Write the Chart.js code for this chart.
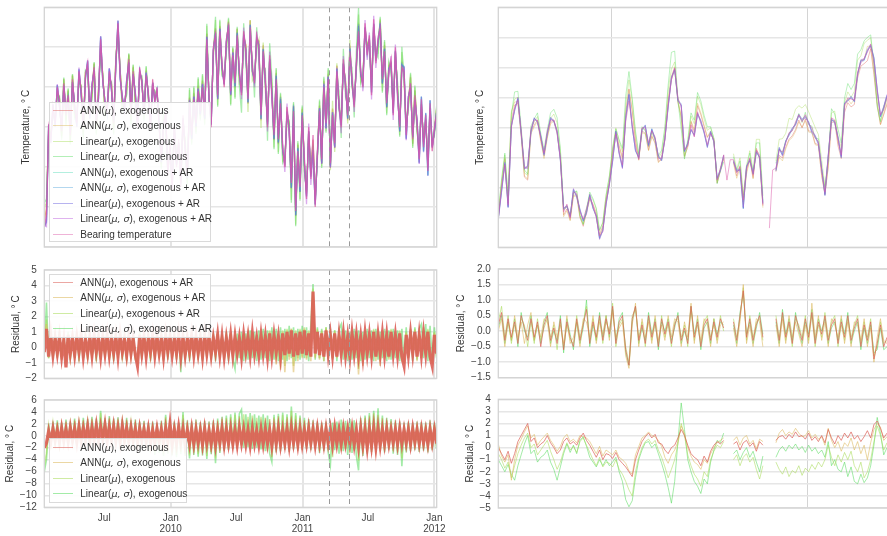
<!DOCTYPE html>
<html>
<head>
<meta charset="utf-8">
<script src="https://cdn.jsdelivr.net/npm/chart.js@4.4.1/dist/chart.umd.min.js"></script>
<style>
  html, body { margin: 0; padding: 0; background: #fff; }
  #page { position: relative; width: 887px; height: 536px; overflow: hidden; }
  #page canvas { position: absolute; left: 0; top: 0; }
  .legend { position: absolute; box-sizing: border-box; background: rgba(255, 255, 255, 0.9); border: 1px solid #dadada; font: 10px "Liberation Sans", Arial, sans-serif; color: #333; z-index: 5; }
  .legend .row { height: 15.5px; display: flex; align-items: center; white-space: nowrap; }
  .legend .swatch { width: 19.4px; height: 1px; margin: 0 7.6px 0 3px; flex: none; }
  .legend i { font-family: "DejaVu Sans", sans-serif; font-size: 9.5px; }
</style>
</head>
<body>
<div id="page"></div>
<script>
// days are counted from 1 Jan 2009
const LEFT_START = 15;
const LEFT_STEP = 6;
const RIGHT_START = 802.7;
const RIGHT_STEP = 0.5;

const exoLabels = ["ANN(μ), exogenous", "ANN(μ, σ), exogenous", "Linear(μ), exogenous", "Linear(μ, σ), exogenous"];
const arLabels = ["ANN(μ), exogenous + AR", "ANN(μ, σ), exogenous + AR", "Linear(μ), exogenous + AR", "Linear(μ, σ), exogenous + AR"];
const bearingLabel = "Bearing temperature";
const palette = ["#db5f57", "#dbb757", "#a7db57", "#57db5f", "#57dbb7", "#57a7db", "#5f57db", "#b757db", "#db57a7"];

const leftTicks = [181, 365, 546, 730, 911, 1095];
const leftTickLabels = ["Jul", ["Jan", "2010"], "Jul", ["Jan", "2011"], "Jul", ["Jan", "2012"]];
const leftGridDays = [365, 730, 1095];
const zoomWindow = [802.4, 859.4];
const rightGridDays = [820, 850];

const tempLeftTicks = [0, 10, 20, 30, 40, 50, 60];
const tempRightTicks = [15, 20, 25, 30, 35, 40, 45, 50, 55];
const arLeftTicks = [-2, -1, 0, 1, 2, 3, 4, 5];
const exoLeftTicks = [-12, -10, -8, -6, -4, -2, 0, 2, 4, 6];
const arRightTicks = [-1.5, -1, -0.5, 0, 0.5, 1, 1.5, 2];
const exoRightTicks = [-5, -4, -3, -2, -1, 0, 1, 2, 3, 4];

// left column: bearing temperature and residuals, one value per 6 days
const leftBearing = [5, 8, 30,
  27, 35, 31, 40, 36, 29, 41, 33, 38, 28, 42, 35, 31, 44, 39, 30, 43, 46, 33, 40,
  45, 31, 38, 52, 42, 36, 34, 44, 40, 31, 46, 56, 43, 37, 35, 41, 47, 33, 44, 38,
  30, 45, 41, 34, 43, 39, 29, 42, 36, 40, 30,
  22, 30, 34, 18, 26, 14, 31, 20, 27, 15, 33, 24, 18, 36, 28, 37,
  31, 39, 34, 40, 33,
  52, 38, 30, 50, 53,
  38, 54, 46, 40, 52, 55, 39, 48, 41, 53, 44, 38, 54, 49, 37, 55, 45, 41, 53, 50,
  33, 49, 42, 30, 48, 38, 28, 42, 27,
  36, 25, 20, 35, 29, 16, 34, 9, 24, 15,
  33, 22, 12, 30, 17, 28, 10, 24, 34,
  22, 40, 31, 42, 21, 33, 26,
  44, 36, 30, 47, 40, 33, 49, 42, 35, 46,
  54, 44, 40, 56, 48, 53, 38, 57, 46, 52, 55,
  42, 49, 36, 44, 47, 33, 50, 38, 30, 45, 44, 28, 37, 41,
  27, 38, 31, 22, 37, 25, 33, 19, 36, 24, 30, 33];

const leftArAnnMu = [-0.3, 1.2, -0.6, 0.8, -0.5, 0.6, -0.4, 0.7, -0.6, 0.5,
  -1.3, 0.8, -0.4, 0.6, -0.5, 0.7, -0.3, 0.8, -0.6, 0.5,
  -0.4, 0.7, -0.5, 0.8, -0.3, 0.6, -0.6, 0.7, -0.4, 0.8,
  -0.5, 0.6, -0.4, 0.7, -0.6, 0.8, -0.3, 0.5, -0.5, 0.7,
  -0.4, 0.6, -0.5, -1.2, 0.8, -0.4, 0.7, -0.6, 0.6, -0.3,
  0.8, -0.5, 0.7, -0.4, 0.6, -0.6, 0.8, -0.3, 0.7, -0.5,
  0.6, -0.4, 0.8, -0.6, 0.7, -0.5, 0.6, -0.3, 0.8, -0.5,
  0.7, -0.4, 0.6, -0.6, 0.8, -0.4, 0.7, -0.5, 0.6, -0.3,
  0.8, -0.5, 0.7, -0.6, 0.6, -0.4, 0.8, -0.5, 0.7, -0.4,
  0.6, -0.6, 0.8, -0.3, 0.7, -0.5, 0.9, -0.4, 0.6, -0.5,
  0.8, -0.4, 0.7, -0.6, 0.9, -0.5, 0.8, -0.3, 0.7, -0.6,
  0.9, -0.5, 1.0, -0.4, 1.1, -0.6, 0.9, -0.5, 1.0, -0.4,
  1.1, -0.5, 0.9, -0.6, 3.6, -0.4, 1.0, -0.5, 0.9, -0.6,
  1.1, -0.4, 0.8, -0.5, 0.9, -0.6, 0.8, -0.4, 0.9, -0.5,
  0.7, -0.6, 0.9, -0.4, 0.8, -0.5, 0.7, -0.6, 0.9, -0.4,
  0.8, -0.5, 1.0, -0.6, 0.8, -0.4, 0.9, -0.5, 0.8, -0.6,
  1.0, -0.4, 0.8, -0.5, 0.9, -0.6, -1.2, 0.8, -0.5, 0.9,
  -0.4, 1.0, -0.6, 0.8, -0.5, 0.9, -0.4, 1.0, -0.6, -1.2,
  0.8, -0.4];
const leftArAnnMuSigma = [0.1, 1.5, -0.7, 0.9, -0.6, 0.8, -0.5, 0.6, -0.8, 0.7,
  -0.9, 0.6, -0.7, 0.8, -0.4, 0.9, -0.6, 0.7, -0.5, 0.8,
  -0.7, 0.6, -0.6, 0.9, -0.5, 0.8, -0.8, 0.6, -0.5, 0.7,
  -0.6, 0.8, -0.5, 0.9, -0.7, 0.6, -0.5, 0.7, -0.8, 0.8,
  -0.6, 0.7, -0.7, -1.0, 0.9, -0.5, 0.8, -0.7, 0.7, -0.6,
  0.9, -0.6, 0.8, -0.5, 0.7, -0.8, 0.9, -0.5, 0.8, -0.7,
  0.7, -0.6, 0.9, -0.8, 0.8, -0.7, 0.7, -0.5, 0.9, -0.6,
  0.8, -0.6, 0.7, -0.8, 0.9, -0.5, 0.8, -0.7, 0.7, -0.5,
  0.9, -0.7, 0.8, -0.8, 0.7, -0.6, 0.9, -0.7, 0.8, -0.5,
  0.7, -0.8, 0.9, -0.5, 0.8, -0.7, 1.0, -0.6, 0.7, -0.8,
  0.9, -0.6, 0.8, -0.9, 1.0, -0.7, 0.9, -1.1, 0.8, -1.45,
  1.0, -1.6, 1.1, -0.8, 1.2, -1.6, 1.0, -0.9, 1.1, -0.7,
  1.2, -0.8, 1.0, -0.9, 3.6, -0.7, 1.1, -0.8, 1.0, -0.9,
  1.2, -0.6, 0.9, -0.8, 1.0, -0.7, 0.9, -0.6, 1.0, -0.8,
  0.8, -0.9, 1.0, -0.7, 0.9, -1.75, 0.8, -1.2, 1.0, -0.7,
  0.9, -0.8, 1.1, -0.9, 0.9, -1.2, 1.0, -0.7, 0.9, -0.8,
  1.1, -0.6, 0.9, -0.8, 1.0, -0.9, -1.0, 0.9, -0.7, 1.0,
  -0.6, 1.1, -0.9, 0.9, -0.7, 1.0, -0.6, 1.1, -0.8, -1.0,
  0.9, -0.6];
const leftArLinMu = [-0.2, 1.8, -0.5, 0.7, -0.7, 0.9, -0.6, 0.8, -0.5, 0.6,
  -1.0, 0.9, -0.6, 0.7, -0.6, 0.8, -0.5, 0.9, -0.7, 0.6,
  -0.5, 0.8, -0.7, 0.7, -0.6, 0.9, -0.5, 0.8, -0.6, 0.9,
  -0.7, 0.7, -0.6, 0.8, -0.5, 0.9, -0.6, 0.6, -0.7, 0.8,
  -0.5, 0.7, -0.6, -1.0, 0.9, -0.6, 0.8, -0.5, 0.7, -0.7,
  0.9, -0.6, 0.8, -0.7, 0.7, -0.5, 0.9, -0.6, 0.8, -0.7,
  0.7, -0.5, 0.9, -0.9, 0.8, -0.6, 0.7, -0.7, 0.9, -0.6,
  0.8, -0.5, 0.7, -0.7, 0.9, -0.6, 0.8, -0.6, 0.7, -0.5,
  0.9, -0.6, 0.8, -0.7, 0.7, -0.5, 0.9, -0.6, 0.8, -0.7,
  0.7, -0.6, 0.9, -0.5, 0.8, -0.6, 1.0, -0.7, 0.8, -0.6,
  1.0, -0.5, 0.9, -0.7, 1.1, -0.6, 1.0, -0.8, 0.9, -1.0,
  1.1, -1.2, 1.2, -0.6, 1.2, -1.2, 1.1, -0.7, 1.2, -0.6,
  1.3, -0.7, 1.1, -0.6, 3.8, -0.6, 1.2, -0.7, 1.1, -0.6,
  1.3, -0.5, 1.0, -0.7, 1.1, -0.6, 1.0, -0.5, 1.2, -0.7,
  0.9, -0.7, 1.1, -0.6, 1.0, -1.4, 0.9, -0.9, 1.1, -0.6,
  1.0, -0.7, 1.2, -0.6, 1.0, -0.9, 1.1, -0.6, 1.0, -0.7,
  1.2, -0.5, 1.0, -0.7, 1.1, -0.6, -0.9, 1.0, -0.6, 1.1,
  -0.5, 1.2, -0.7, 1.0, -0.6, 1.3, -0.5, 1.2, -0.7, -0.9,
  1.0, -0.5];
const leftArLinMuSigma = [-0.4, 2.9, -0.7, 1.0, -0.8, 0.9, -0.7, 1.0, -0.8, 0.8,
  -0.9, 1.0, -0.8, 0.9, -0.7, 1.0, -0.9, 0.8, -0.7, 0.9,
  -0.8, 1.0, -0.7, 0.9, -0.9, 1.0, -0.8, 0.9, -0.7, 1.0,
  -0.8, 0.9, -0.9, 1.0, -0.7, 0.9, -0.8, 1.0, -0.9, 0.9,
  -0.7, 1.0, -0.8, -0.9, 1.0, -0.8, 0.9, -0.7, 1.0, -0.9,
  0.9, -0.8, 1.0, -0.7, 0.9, -0.9, 1.0, -0.8, 0.9, -0.7,
  1.0, -0.8, 0.9, -1.6, 1.0, -0.8, 0.9, -0.9, 1.0, -0.7,
  0.9, -0.8, 1.0, -0.9, 0.9, -0.7, 1.0, -0.8, 0.9, -0.9,
  1.0, -0.7, 0.9, -0.8, 1.0, -0.9, 0.9, -0.8, -1.4, 0.9,
  -0.7, 1.0, -0.9, 0.9, -0.8, 1.1, -0.7, 1.0, -0.9, 1.1,
  -0.8, 1.2, -0.7, 1.1, -0.9, 1.3, -0.8, 1.2, -0.9, 1.3,
  -0.8, 1.2, -0.9, 1.4, -0.7, 1.3, -0.9, 1.2, -0.8, 1.4,
  -0.7, 1.3, -0.9, 1.5, 4.1, -0.8, 1.3, -0.7, 1.2, -0.9,
  1.3, -0.8, 1.2, -0.7, 1.1, -0.9, 1.2, 1.5, -0.8, 1.1,
  -0.9, 1.0, -0.8, 1.2, -0.7, 1.1, -0.9, 1.0, -0.8, 1.2,
  -0.7, 1.1, -0.9, 1.2, -0.8, 1.0, -0.7, 1.2, -0.9, 1.1,
  -0.8, 1.2, -0.7, 1.1, -0.9, 1.2, -0.8, 1.3, -0.7, 1.2,
  -0.9, 1.3, -0.8, 1.2, 1.5, -0.7, 1.5, -0.9, 1.4, -0.8,
  1.3, -0.7];

const leftExoAnnMu = [-2.0, -1.2, 0.8, -1.0, 1.2, -0.8, 1.0, -1.1, 1.3, -0.9,
  1.1, -1.0, 1.4, -0.8, 1.2, -1.1, 1.5, -0.9, 1.3, -0.7,
  1.6, -1.0, 1.4, -0.8, 1.7, -0.9, 1.5, -0.7, 1.8, -1.0,
  1.5, -0.8, 1.6, -0.9, 1.4, -1.1, 1.7, -0.8, 1.3, -1.0,
  1.4, -0.9, 1.2, -1.2, 1.3, -0.8, 1.1, -1.0, 1.2, -1.3,
  1.0, -1.1, 1.2, -0.9, 1.1, -1.2, 1.3, -1.0, 2.0, -1.4,
  1.1, -1.2, 1.5, -1.0, 1.2, -1.5, 1.0, -1.3, 1.2, -1.4,
  1.1, -1.2, 1.0, -1.5, 1.2, -1.3, 0.9, -1.4, 1.1, -1.6,
  1.0, -1.2, 1.3, -1.5, 1.1, -1.3, 1.2, -1.4, 1.0, -1.5,
  1.3, -1.2, 1.1, -1.4, 1.0, -1.6, 1.2, -1.3, 0.9, -1.5,
  1.1, -1.4, 1.2, -1.3, 1.0, -1.7, 1.1, -1.4, 1.3, -1.5,
  1.0, -1.3, 1.2, -1.6, 1.4, -1.2, 1.1, -1.5, 1.2, -1.4,
  1.0, -1.3, 1.3, -1.2, 1.1, -1.5, 1.2, -1.3, 1.0, -1.4,
  1.2, -1.2, 1.1, -1.5, 1.3, -1.3, 1.0, -1.4, 1.2, -1.2,
  1.1, -1.3, 1.2, -1.5, 1.0, -1.8, 1.3, -1.6, 1.1, -2.0,
  1.2, -1.7, 1.4, -1.9, 1.3, -1.6, 1.1, -1.4, 1.2, -1.3,
  1.0, -1.2, 1.1, -1.4, 1.2, -1.3, 1.0, -1.2, 1.1, -1.4,
  1.2, -1.1, 1.0, -1.3, 1.1, -1.2, 0.9, -1.4, 1.1, -1.2,
  1.0, -1.3];
const leftExoAnnMuSigma = [-1.8, -2.0, 0.5, -1.3, 1.0, -1.1, 1.3, -1.2, 1.1, -1.0,
  1.4, -1.2, 1.2, -1.0, 1.5, -1.3, 1.3, -1.1, 1.6, -0.9,
  1.4, -1.2, 1.7, -1.0, 1.5, -1.1, 1.8, -0.9, 1.6, -1.2,
  1.8, -1.0, 1.5, -1.1, 1.7, -1.3, 1.5, -1.0, 1.6, -1.2,
  1.3, -1.1, 1.4, -1.4, 1.1, -1.0, 1.3, -1.3, 1.0, -1.5,
  1.2, -1.3, 1.0, -1.1, 1.3, -1.4, 1.1, -1.2, 1.8, -1.6,
  1.3, -1.4, 1.2, -1.3, 1.4, -1.7, 1.2, -1.5, 1.0, -1.6,
  1.3, -1.4, 1.2, -1.7, 1.0, -1.5, 1.1, -1.6, 1.3, -1.8,
  1.2, -1.4, 1.1, -1.7, 1.3, -1.5, 1.0, -1.6, 1.2, -1.7,
  1.1, -1.4, 1.3, -1.6, 1.2, -1.8, 1.0, -1.5, 1.1, -1.7,
  1.3, -1.6, 1.0, -1.5, 1.2, -1.9, 1.3, -1.6, 1.1, -1.7,
  1.2, -1.5, 1.0, -1.8, 1.2, -1.4, 1.3, -1.7, 1.0, -1.6,
  1.2, -1.5, 1.1, -1.4, 1.3, -1.7, 1.0, -1.5, 1.2, -1.6,
  1.0, -1.4, 1.3, -1.7, 1.1, -1.5, 1.2, -1.6, 1.0, -1.4,
  1.3, -1.5, 1.0, -1.7, 1.2, -2.1, 1.1, -1.9, 1.3, -2.5,
  1.0, -2.2, 1.2, -2.4, 1.1, -1.9, 1.3, -1.6, 1.0, -1.5,
  1.2, -1.4, 1.3, -1.6, 1.0, -1.5, 1.2, -1.4, 1.3, -1.6,
  1.0, -1.3, 1.2, -1.5, 1.3, -1.4, 1.1, -1.6, 1.3, -1.4,
  1.2, -1.5];
const leftExoLinMu = [-5.0, -3.0, 1.5, -1.5, 2.0, -1.3, 2.2, -1.6, 1.8, -1.2,
  2.3, -1.5, 2.0, -1.1, 2.5, -1.4, 2.2, -1.2, 2.6, -1.0,
  2.4, -1.3, 2.8, -1.1, 2.5, -1.2, 3.8, -1.0, 2.6, -1.3,
  2.9, -1.1, 2.5, -1.2, 2.7, -1.4, 2.4, -1.0, 2.6, -1.3,
  2.2, -1.5, 2.3, -1.8, 2.0, -1.6, 2.1, -2.0, 1.8, -2.4,
  2.0, -2.8, 1.8, -2.5, 2.1, -3.0, 3.2, -2.6, 2.4, -2.9,
  2.0, -3.2, 1.8, -2.7, 3.5, -3.0, 2.2, -3.3, 2.0, -2.8,
  2.3, -3.1, 1.9, -2.9, 2.1, -3.4, 2.0, -2.7, 2.2, -3.8,
  2.5, -2.5, 2.8, -2.2, 3.0, -2.0, 3.2, -1.8, 3.5, -1.7,
  3.3, -1.6, 3.6, -1.5, 3.2, -1.8, 3.4, -1.6, 3.0, -1.9,
  3.2, -2.2, 3.0, -2.6, 2.8, -3.6, 3.1, -2.4, 3.3, -2.2,
  3.5, -2.0, 3.2, -2.3, 4.2, -1.9, 3.4, -2.1, 3.0, -2.0,
  2.6, -1.8, 2.4, -2.0, 2.2, -1.7, 2.0, -2.5, 1.8, -2.2,
  2.0, -2.4, 1.8, -3.6, 2.2, -2.0, 2.0, -2.6, 2.3, -2.2,
  2.1, -2.8, 2.4, -2.5, 2.2, -4.2, 2.6, -3.0, 3.0, -2.6,
  3.4, -2.3, 3.8, -2.0, 3.5, -2.2, 3.0, -2.4, 2.6, -2.0,
  2.4, -2.6, 2.2, -2.8, 2.0, -3.8, 1.8, -2.4, 2.0, -2.2,
  1.8, -2.0, 2.0, -2.3, 1.9, -2.1, 1.8, -2.4, 2.2, -2.0,
  1.8, -1.8];
const leftExoLinMuSigma = [-6.0, -4.0, 2.0, -1.8, 2.4, -1.5, 2.6, -1.9, 2.2, -1.4,
  2.7, -1.7, 2.4, -1.3, 2.9, -1.6, 2.6, -1.4, 3.0, -1.2,
  2.8, -1.5, 3.2, -1.3, 2.9, -1.4, 4.2, -1.2, 3.0, -1.5,
  3.3, -1.3, 2.9, -1.4, 3.1, -1.6, 2.8, -1.2, 3.0, -1.5,
  2.6, -1.7, 2.7, -2.0, 2.4, -1.8, 2.5, -2.3, 2.2, -2.7,
  2.4, -3.2, 2.2, -2.9, 2.5, -3.4, 3.5, -3.0, 2.8, -3.3,
  2.4, -3.6, 2.2, -3.1, 4.0, -3.4, 2.6, -3.8, 2.4, -3.2,
  2.7, -3.5, 2.3, -3.3, 2.5, -3.9, 2.4, -3.1, 2.6, -4.6,
  2.9, -2.9, 3.2, -2.6, 3.4, -2.4, 3.6, -2.2, 3.9, -2.1,
  3.7, 4.4, -2.0, 3.6, -1.9, 3.8, -2.2, 3.6, -2.0, 3.4,
  -2.3, 3.6, -2.6, 3.4, -3.0, -4.4, 3.5, -2.8, 3.7, -2.6,
  3.9, -2.4, 3.6, -2.7, 4.9, -2.3, 3.8, -2.5, 3.4, -2.4,
  3.0, -2.2, 2.8, -2.4, 2.6, -2.1, 2.4, -2.9, 2.2, -2.6,
  2.4, -2.8, -4.9, 2.2, -2.4, 2.4, -3.0, 2.7, -2.6, 2.5,
  -3.2, 2.8, -2.9, 2.6, -3.4, -5.8, 3.0, -3.4, 3.4, -3.0,
  3.8, -2.7, 4.2, -2.4, 4.6, -2.6, 3.4, -2.8, 3.0, -2.4,
  2.8, -3.0, 2.6, -3.2, 2.4, -5.1, 2.2, -2.8, 2.4, -2.6,
  2.2, -2.4, 2.4, -2.7, 2.3, -2.5, 2.2, -2.8, 2.6, -2.4,
  2.2, -2.2];

// right column: Mar-May 2011 window, one value per half day
const rightBearing = [19.9, 24.9, 28.7, 22.1, 34.9, 38.2, 39.5, 34.5, 28.2, 28.2,
  34.7, 36.2, 36.2, 33.2, 30.7, 34.4, 36.2, 36.2, 33.9, 29.9,
  20.9, 22.2, 19.9, 24.2, 23.9, 20.9, 19.7, 21.5, 23.4, 21.9,
  19.9, 16.9, 17.6, 22.6, 25.4, 30.1, 33.9, 30.9, 28.7, 35.9,
  39.4, 35.4, 31.9, 29.6, 34.9, 34.9, 32.4, 34.4, 33.4, 29.7,
  29.9, 32.9, 38.7, 42.9, 44.9, 39.9, 38.4, 31.2, 31.9, 35.4,
  33.4, 37.6, 35.6, 34.4, 32.1, 33.9, 32.9, 26.2, 28.2, 30.4,
  26.2, 29.6, 29.6, 27.4, 28.4, 22.9, 28.2, 29.9, 27.0, 31.2,
  30.4, 22.1, null, 18.2, 27.9, 28.2, 31.2, 30.9, 32.4, 34.1,
  34.4, 35.9, 37.1, 35.9, 37.1, 35.6, 34.9, 33.2, 32.6, 27.9,
  24.2, 29.9, 36.6, 36.2, 32.9, 30.4, 38.7, 39.9, 39.7, 39.5,
  44.2, 45.7, 46.5, 47.5, 48.9, 45.7, 40.9, 37.1, 37.9, 40.0];

const rightArAnnMu = [0.2, 0.6, -0.3, 0.4, -0.2, 0.3, -0.4, 0.5, 0.1, -0.3,
  0.4, -0.2, 0.3, -0.5, 0.2, 0.5, -0.3, 0.1, -0.4, 0.4,
  -0.6, 0.3, -0.2, -0.5, 0.4, -0.3, 0.2, 0.7, -0.4, 0.3,
  -0.2, 0.5, -0.3, 0.4, -0.1, 0.8, -0.4, 0.3, 0.5, -0.6,
  -1.1, 0.4, 0.8, -0.3, 0.2, -0.4, 0.5, -0.2, 0.3, -0.5,
  0.4, -0.1, 0.3, -0.4, 0.2, 0.5, -0.3, 0.1, -0.4, 0.8,
  -0.2, 0.3, -0.5, 0.2, 0.4, -0.3, 0.3, -0.2, 0.4, 0.1,
  null, null, 0.3, -0.3, 0.5, 1.3, -0.2, 0.4, -0.3, 0.2,
  0.5, -0.2, null, null, null, 0.4, -0.3, 0.6, -0.2, 0.3,
  -0.4, 0.5, 0.1, -0.3, 0.4, -0.2, 0.6, -0.4, 0.3, -0.1,
  0.5, -0.3, 0.2, 0.4, -0.4, 0.3, -0.2, 0.5, -0.3, 0.1,
  0.4, -0.5, 0.2, -0.3, 0.3, -0.9, -0.4, 0.2, -0.5, -0.2];
const rightArAnnMuSigma = [0.0, 0.4, -0.5, 0.3, -0.3, 0.5, -0.2, 0.3, -0.4, 0.2,
  0.6, -0.3, 0.2, -0.2, 0.4, 0.3, -0.5, 0.3, -0.2, 0.2,
  -0.4, 0.5, -0.4, -0.2, 0.3, -0.5, 0.4, 0.3, -0.2, 0.5,
  -0.4, 0.3, -0.1, 0.5, -0.3, 0.6, -0.2, 0.1, 0.3, -0.8,
  -1.2, 0.2, 0.9, -0.5, 0.4, -0.2, 0.3, -0.4, 0.5, -0.3,
  0.2, -0.3, 0.5, -0.2, 0.4, 0.3, -0.5, 0.3, -0.2, 0.9,
  -0.4, 0.5, -0.3, 0.4, 0.2, -0.5, 0.4, -0.4, 0.2, 0.3,
  null, null, 0.1, -0.5, 0.3, 1.5, -0.4, 0.2, -0.5, 0.4,
  0.3, -0.5, null, null, null, 0.2, -0.5, 0.4, -0.4, 0.5,
  -0.2, 0.3, -0.1, -0.5, 0.2, -0.4, 0.9, -0.2, 0.5, -0.3,
  0.3, -0.5, 0.4, 0.2, -0.2, 0.5, -0.4, 0.3, -0.5, 0.3,
  0.2, -0.3, 0.4, -0.5, 0.1, -1.0, -0.2, 0.4, -0.3, -0.4];
const rightArLinMu = [0.3, 0.8, -0.2, 0.5, -0.4, 0.2, -0.3, 0.4, 0.2, -0.5,
  0.3, -0.4, 0.4, -0.3, 0.1, 0.4, -0.2, 0.2, -0.6, 0.3,
  -0.5, 0.2, -0.3, -0.4, 0.5, -0.2, 0.3, 0.8, -0.3, 0.4,
  -0.3, 0.4, -0.4, 0.3, 0.0, 0.9, -0.5, 0.2, 0.4, -0.5,
  -1.0, 0.5, 0.7, -0.2, 0.3, -0.5, 0.4, -0.3, 0.2, -0.4,
  0.5, -0.2, 0.2, -0.5, 0.3, 0.4, -0.2, 0.2, -0.5, 0.7,
  -0.3, 0.2, -0.4, 0.3, 0.5, -0.2, 0.2, -0.3, 0.5, 0.0,
  null, null, 0.4, -0.2, 0.4, 1.4, -0.3, 0.5, -0.2, 0.3,
  0.4, -0.3, null, null, null, 0.5, -0.2, 0.5, -0.3, 0.2,
  -0.5, 0.4, 0.2, -0.2, 0.5, -0.3, 0.5, -0.5, 0.2, -0.2,
  0.6, -0.2, 0.3, 0.5, -0.5, 0.2, -0.3, 0.4, -0.2, 0.2,
  0.5, -0.4, 0.3, -0.2, 0.4, -0.8, -0.5, 0.3, -0.4, -0.3];
const rightArLinMuSigma = [0.1, 0.5, -0.4, 0.3, -0.3, 0.4, -0.5, 0.6, 0.0, -0.2,
  0.5, -0.3, 0.2, -0.4, 0.3, 0.6, -0.4, 0.0, -0.3, 0.5,
  -0.7, 0.4, -0.1, -0.6, 0.3, -0.4, 0.1, 1.0, -0.5, 0.2,
  -0.3, 0.6, -0.2, 0.5, -0.2, 0.7, -0.3, 0.4, 0.6, -0.7,
  -1.1, 0.3, 0.8, -0.4, 0.1, -0.3, 0.6, -0.1, 0.4, -0.6,
  0.3, 0.0, 0.4, -0.3, 0.1, 0.6, -0.4, 0.0, -0.3, 0.8,
  -0.1, 0.4, -0.6, 0.1, 0.3, -0.4, 0.4, -0.1, 0.3, 0.2,
  null, null, 0.2, -0.4, 0.6, 1.2, -0.1, 0.3, -0.4, 0.1,
  0.6, -0.1, null, null, null, 0.3, -0.4, 0.7, -0.1, 0.4,
  -0.3, 0.6, 0.0, -0.4, 0.3, -0.1, 0.7, -0.3, 0.4, 0.0,
  0.4, -0.4, 0.1, 0.3, -0.3, 0.4, -0.1, 0.6, -0.4, 0.0,
  0.3, -0.6, 0.1, -0.4, 0.2, -0.7, -0.6, 0.1, -0.6, -0.5];

const rightExoAnnMu = [0.0, -0.5, -1.0, -0.3, -1.3, -0.5, 0.5, 1.0, 1.5, 2.0,
  0.5, 0.8, 0.0, 0.3, 0.5, 1.0, 0.4, 0.0, -0.5, -0.2,
  0.5, 0.8, 0.3, 0.5, 0.2, 0.8, 1.2, 0.6, 0.2, -0.3,
  -0.8, -0.2, -1.0, -0.5, -0.6, -0.9, -0.4, -1.0, -1.3, -1.6,
  -2.0, -2.4, -1.0, -0.2, 0.5, 0.9, 1.2, 0.8, 1.1, 0.4,
  0.3, -0.2, -0.5, 0.0, 0.2, 0.8, 1.5, 1.0, 0.2, -0.5,
  -0.8, -1.0, -1.5, -0.7, -1.2, -0.3, 0.2, 0.5, 0.3, 0.6,
  null, null, 0.3, 0.5, -0.2, 0.4, 0.6, 0.1, 0.4, -0.3,
  0.5, 0.2, null, null, null, 0.6, 0.9, 1.0, 0.7, 1.1,
  0.8, 1.3, 0.9, 1.0, 0.7, 1.2, 0.6, 0.9, 0.5, 1.0,
  0.4, 1.5, 0.8, 0.3, 1.0, 0.6, 1.2, 0.8, 1.3, 0.7,
  1.0, 0.5, 0.9, 1.4, 0.8, 1.9, 2.2, 1.6, 0.8, 1.2];
const rightExoAnnMuSigma = [0.3, -0.7, -1.2, -0.6, -2.7, -1.0, 0.2, 0.7, 1.3, 1.8,
  0.8, 1.1, 0.2, 0.6, 0.9, 1.2, 0.6, 0.2, -0.3, 0.1,
  0.8, 1.1, 0.5, 0.7, 0.4, 1.0, 0.9, 0.8, 0.5, 0.0,
  -0.5, 0.1, -0.7, -0.2, -0.4, -0.6, -0.2, -0.8, -1.0, -1.3,
  -1.9, -2.2, -0.6, 0.1, 0.8, 1.0, 1.3, 1.0, 0.9, 0.6,
  0.1, -0.8, -1.3, -0.6, -0.2, 0.5, 1.8, 1.2, 0.0, -0.7,
  -1.2, -1.4, -1.8, -1.0, -1.3, -0.5, 0.0, 0.4, 0.6, 0.8,
  null, null, 0.6, 0.9, 0.2, 0.8, 1.0, 0.3, 0.6, -0.1,
  0.7, 0.5, null, null, null, 0.4, 1.2, 1.5, 1.0, 1.3,
  1.1, 1.6, 1.2, 0.9, 1.0, 1.4, 0.8, 1.1, 0.7, 0.9,
  0.2, 1.6, 0.6, 0.0, 0.5, -0.3, 0.4, 0.1, 0.8, -0.2,
  0.5, -0.5, 0.2, -1.0, 0.4, 1.5, 2.0, 1.7, 0.6, 0.9];
const rightExoLinMu = [-0.5, -1.0, -1.7, -1.2, -2.5, -1.5, -0.5, 0.2, 0.8, 1.2,
  0.0, 0.3, -0.6, -0.2, 0.2, 0.6, -0.3, -1.0, -1.8, -1.2,
  -0.3, 0.4, -0.2, 0.1, -0.4, 0.5, 0.8, 0.2, -0.4, -1.0,
  -1.5, -0.8, -1.6, -1.2, -1.3, -1.6, -1.0, -1.8, -2.2, -2.8,
  -3.5, -4.0, -2.0, -0.8, 0.0, 0.5, 0.7, 0.3, 0.6, -0.2,
  -0.8, -1.6, -2.5, -1.8, -1.0, 0.3, 2.0, 1.0, -0.6, -1.5,
  -2.2, -2.6, -3.2, -2.0, -2.4, -1.0, -0.3, 0.2, 0.0, 0.5,
  null, null, -1.0, -0.6, -1.5, -0.8, -0.5, -1.2, -0.8, -1.8,
  -2.6, -1.5, null, null, null, -1.2, -1.8, -2.2, -1.6, -2.4,
  -1.9, -2.1, -1.5, -2.3, -1.7, -2.0, -1.4, -1.8, -1.2, -1.6,
  -1.0, 0.2, -0.8, -1.5, -0.6, -1.2, -0.4, -1.0, -0.3, -1.5,
  -2.0, -1.2, -2.5, -2.0, -1.0, 0.5, 1.8, 1.0, -0.2, 0.4];
const rightExoLinMuSigma = [-1.0, -1.5, -2.0, -1.4, -2.2, -2.7, -1.5, -0.6, 0.3, 1.0,
  -0.5, -0.2, -1.2, -0.8, -0.6, -0.2, -1.2, -1.8, -2.7, -1.6,
  -0.5, 0.3, -0.4, 0.2, -0.5, 0.6, 0.9, 0.1, -0.8, -1.2,
  -1.6, -1.0, -1.5, -1.0, -1.5, -1.2, -0.8, -2.0, -2.8, -4.3,
  -4.9, -4.4, -2.5, -1.0, -0.2, 0.4, 0.5, 0.0, 0.3, -0.5,
  -1.3, -2.2, -3.3, -4.6, -2.8, 0.5, 3.7, 1.5, -1.0, -2.0,
  -2.8, -3.2, -3.8, -2.6, -3.0, -1.2, -0.2, 0.6, 0.4, 1.2,
  null, null, -0.5, -0.2, -1.0, -0.4, 0.0, -0.8, -0.3, -1.2,
  -2.0, -0.7, null, null, null, -0.8, -0.2, 0.1, -0.3, 0.2,
  -0.1, 0.3, -0.2, 0.1, -0.4, 0.2, -0.3, 0.0, -0.5, -0.2,
  -0.8, 0.5, -1.5, -1.0, -1.8, -2.0, -1.2, -2.4, -1.6, -2.8,
  -3.0, -2.2, -2.9, -2.5, -1.5, 0.2, 2.5, 1.2, -0.6, 0.0];

// ---- helpers
const page = document.getElementById("page");
Chart.defaults.font.family = "'Liberation Sans', Arial, sans-serif";
Chart.defaults.font.size = 10;
Chart.defaults.color = "#444";

const withAlpha = (hex, a) => {
    const n = parseInt(hex.slice(1), 16);
    return `rgba(${n >> 16}, ${(n >> 8) & 255}, ${n & 255}, ${a})`;
};
const dayAxis = (start, step, n) => Array.from({ length: n }, (_, i) => start + step * i);
const subtract = (a, b) => a.map((v, i) => (v === null || b[i] === null ? null : +(v - b[i]).toFixed(2)));
const formatTick = (digits) => (v) => Number(v).toFixed(digits).replace("-", "\u2212");

const makeLine = (label, days, values, color, width, alpha, order) => ({
    label,
    data: values.map((v, i) => ({ x: days[i], y: v })),
    borderColor: withAlpha(color, alpha),
    borderWidth: width,
    pointRadius: 0,
    fill: false,
    tension: 0,
    order,
});

const framePlugin = {
    id: "frame",
    afterDraw(chart, args, opts) {
        const { ctx, chartArea: a } = chart;
        ctx.save();
        ctx.strokeStyle = "#d3d3d3";
        ctx.lineWidth = 1.3;
        ctx.strokeRect(a.left, a.top, a.right - a.left + (opts.openRight ? 4 : 0), a.bottom - a.top);
        ctx.restore();
    },
};

const windowPlugin = {
    id: "window",
    afterDatasetsDraw(chart) {
        const { ctx, chartArea: a, scales } = chart;
        ctx.save();
        ctx.strokeStyle = "#9a9a9a";
        ctx.lineWidth = 1;
        ctx.setLineDash([5, 4]);
        zoomWindow.forEach((d) => {
            const px = Math.round(scales.x.getPixelForValue(d)) + 0.5;
            ctx.beginPath();
            ctx.moveTo(px, a.top);
            ctx.lineTo(px, a.bottom);
            ctx.stroke();
        });
        ctx.restore();
    },
};

const createPanel = (p) => {
    const canvas = document.createElement("canvas");
    canvas.width = 887;
    canvas.height = 536;
    page.appendChild(canvas);

    const xHeight = p.xLabels ? 29 : 0;
    const zeroPadding = (s) => {
        s.paddingLeft = 0;
        s.paddingRight = 0;
        s.paddingTop = 0;
        s.paddingBottom = 0;
    };

    new Chart(canvas.getContext("2d"), {
        type: "line",
        data: { datasets: p.datasets },
        options: {
            responsive: false,
            animation: false,
            events: [],
            devicePixelRatio: 1,
            layout: { padding: { left: 0, top: p.area.t, right: 887 - p.area.r, bottom: 536 - p.area.b - xHeight } },
            plugins: { legend: { display: false }, tooltip: { enabled: false }, frame: { openRight: !!p.openRight } },
            scales: {
                x: {
                    type: "linear",
                    min: p.xMin,
                    max: p.xMax,
                    afterBuildTicks: (s) => { s.ticks = p.xTicks.map((value) => ({ value })); },
                    afterFit: (s) => { s.height = xHeight; zeroPadding(s); },
                    border: { display: false },
                    grid: {
                        drawTicks: false,
                        lineWidth: p.xGridWidth,
                        color: (c) => (c.tick && p.xGrid.includes(c.tick.value) ? p.xGridColor : "rgba(0,0,0,0)"),
                    },
                    ticks: {
                        display: !!p.xLabels,
                        autoSkip: false,
                        maxRotation: 0,
                        padding: 5.5,
                        font: { lineHeight: 1.1 },
                        callback: (v, i) => (p.xLabels ? p.xLabels[i] : ""),
                    },
                },
                y: {
                    type: "linear",
                    min: Math.min(...p.yTicks),
                    max: Math.max(...p.yTicks),
                    afterBuildTicks: (s) => { s.ticks = p.yTicks.map((value) => ({ value })); },
                    afterFit: (s) => { s.width = p.area.l; zeroPadding(s); },
                    border: { display: false },
                    grid: { drawTicks: false, lineWidth: 1.6, color: "#e6e6e6" },
                    ticks: { display: p.yDigits !== undefined, autoSkip: false, padding: 7.5, callback: formatTick(p.yDigits || 0) },
                    title: {
                        display: true,
                        text: p.yTitle,
                        color: "#333",
                        font: { size: 10, lineHeight: 1.2 },
                        padding: { top: p.titleX - 6, bottom: 0 },
                    },
                },
            },
        },
        plugins: p.dashed ? [framePlugin, windowPlugin] : [framePlugin],
    });
};

const createLegend = (box, labels, colors, alpha) => {
    const div = document.createElement("div");
    div.className = "legend";
    Object.assign(div.style, { left: box.l + "px", top: box.t + "px", width: box.w + "px", height: box.h + "px" });
    labels.forEach((label, i) => {
        const row = document.createElement("div");
        row.className = "row";
        const swatch = document.createElement("span");
        swatch.className = "swatch";
        swatch.style.background = withAlpha(colors[i], alpha);
        const text = document.createElement("span");
        text.innerHTML = label.replace(/\(([^)]*)\)/, (m, inner) => "(<i>" + inner + "</i>)");
        row.appendChild(swatch);
        row.appendChild(text);
        div.appendChild(row);
    });
    page.appendChild(div);
};

// ---- build the six panels
const leftDays = dayAxis(LEFT_START, LEFT_STEP, leftBearing.length);
const rightDays = dayAxis(RIGHT_START, RIGHT_STEP, rightBearing.length);

const leftExo = [leftExoAnnMu, leftExoAnnMuSigma, leftExoLinMu, leftExoLinMuSigma];
const leftAr = [leftArAnnMu, leftArAnnMuSigma, leftArLinMu, leftArLinMuSigma];
const rightExo = [rightExoAnnMu, rightExoAnnMuSigma, rightExoLinMu, rightExoLinMuSigma];
const rightAr = [rightArAnnMu, rightArAnnMuSigma, rightArLinMu, rightArLinMuSigma];

const tempLabels = [...exoLabels, ...arLabels, bearingLabel];
const tempDatasets = (days, bearing, exo, ar, width, alpha, bearingAlpha) => {
    const series = [...exo, ...ar].map((r) => subtract(bearing, r));
    series.push(bearing);
    return series.map((values, i) =>
        makeLine(tempLabels[i], days, values, palette[i], width, i === 8 ? bearingAlpha : alpha, 8 - i));
};
// the first model (red) sits on top and is drawn heavier, as in the source figure
const residDatasets = (labels, days, resid, width, topWidth, alpha, topAlpha) =>
    resid.map((values, i) =>
        makeLine(labels[i], days, values, palette[i], i === 0 ? topWidth : width, i === 0 ? topAlpha : alpha, i));

const leftX = { xMin: 15, xMax: 1101.4, xTicks: leftTicks, xGrid: leftGridDays, xGridColor: "#e4e4e4", xGridWidth: 2, dashed: true };
const rightX = { xMin: RIGHT_START, xMax: 862.2, xTicks: rightGridDays, xGrid: rightGridDays, xGridColor: "#d4d4d4", xGridWidth: 1, openRight: true };

createPanel({ ...leftX, area: { l: 44.3, t: 7.3, r: 436.7, b: 247 }, yTicks: tempLeftTicks, yTitle: "Temperature, °\u2009C", titleX: 26.7,
    datasets: tempDatasets(leftDays, leftBearing, leftExo, leftAr, 1.3, 0.5, 0.75) });
createPanel({ ...leftX, area: { l: 44.3, t: 270, r: 436.7, b: 378.3 }, yTicks: arLeftTicks, yDigits: 0, yTitle: "Residual, °\u2009C", titleX: 16,
    datasets: residDatasets(arLabels, leftDays, leftAr, 1.6, 3.2, 0.55, 0.9) });
createPanel({ ...leftX, area: { l: 44.3, t: 400, r: 436.7, b: 507.3 }, yTicks: exoLeftTicks, yDigits: 0, yTitle: "Residual, °\u2009C", titleX: 10,
    xLabels: leftTickLabels, datasets: residDatasets(exoLabels, leftDays, leftExo, 1.6, 3.2, 0.55, 0.9) });

createPanel({ ...rightX, area: { l: 498.3, t: 7.3, r: 887, b: 247.3 }, yTicks: tempRightTicks, yTitle: "Temperature, °\u2009C", titleX: 480.7,
    datasets: tempDatasets(rightDays, rightBearing, rightExo, rightAr, 1, 0.4, 0.5) });
createPanel({ ...rightX, area: { l: 498.3, t: 269, r: 887, b: 377.7 }, yTicks: arRightTicks, yDigits: 1, yTitle: "Residual, °\u2009C", titleX: 461.7,
    datasets: residDatasets(arLabels, rightDays, rightAr, 1, 1, 0.55, 0.7) });
createPanel({ ...rightX, area: { l: 498.3, t: 399.3, r: 887, b: 508 }, yTicks: exoRightTicks, yDigits: 0, yTitle: "Residual, °\u2009C", titleX: 470,
    datasets: residDatasets(exoLabels, rightDays, rightExo, 1, 1, 0.55, 0.7) });

createLegend({ l: 49.3, t: 101.7, w: 161.4, h: 140.6 }, tempLabels, palette, 0.45);
createLegend({ l: 49.3, t: 273.5, w: 161.4, h: 64.8 }, arLabels, palette, 0.55);
createLegend({ l: 49.3, t: 438.3, w: 137.4, h: 65 }, exoLabels, palette, 0.55);
</script>
</body>
</html>
